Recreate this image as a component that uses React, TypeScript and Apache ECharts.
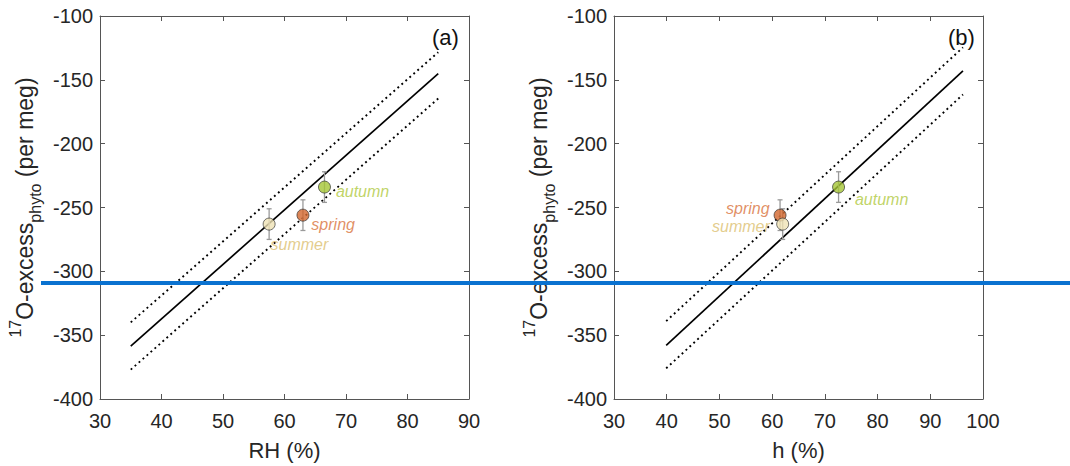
import React, { useEffect, useRef } from "react";
import * as echarts from "echarts";

const seasons = ["spring", "summer", "autumn"];
const excessPhyto = [-256, -263, -234];
const excessErr = [12, 12, 12];
const rhA = [63.0, 57.5, 66.5];
const hB = [61.5, 62.0, 72.6];

const fitAx = [35, 85];
const fitAy = [-358.6, -145.2];
const fitAupper = [-340, -128.4];
const fitAlower = [-377, -164.6];

const fitBx = [39.9, 96.2];
const fitBy = [-358, -143];
const fitBupper = [-339, -124.6];
const fitBlower = [-376, -161.5];

const yTicksMin = -400;
const yTicksMax = -100;
const xAMin = 30;
const xAMax = 90;
const xBMin = 30;
const xBMax = 100;

const markerColors = ["#d2672d", "#efe2b5", "#a5c636"];
const labelColors = ["#d9733d", "#dcc070", "#afc940"];

// label placement per panel: [position, dx, dy]
const labelPosA: [string, number, number][] = [
  ["right", -3, 9],
  ["right", -10, 20],
  ["right", 0, 4],
];
const labelPosB: [string, number, number][] = [
  ["left", 1, -7],
  ["left", -1.5, 2.5],
  ["right", 5, 12],
];

const FONT = "Liberation Sans, Arial, Helvetica, sans-serif";
const TXT = "#262626";
const AXC = "#555555";

export default function App() {
  const ref = useRef<HTMLDivElement>(null);
  useEffect(() => {
    const chart = echarts.init(ref.current!, null, { renderer: "svg" });

    const grids = [
      { left: 100, top: 16, width: 369, height: 386 },
      { left: 614, top: 16, width: 369, height: 386 },
    ];

    const mkX = (gi: number, min: number, max: number, pos: string, name: string) => ({
      type: "value",
      gridIndex: gi,
      position: pos,
      min,
      max,
      interval: 10,
      name: pos === "bottom" ? name : "",
      nameLocation: "middle",
      nameGap: 40,
      nameTextStyle: { fontSize: 22, color: TXT, fontFamily: FONT },
      axisLine: { show: true, onZero: false, lineStyle: { color: AXC, width: 1 } },
      axisTick: { show: true, inside: true, length: 5, lineStyle: { color: AXC } },
      axisLabel: {
        show: pos === "bottom",
        fontSize: 20,
        color: TXT,
        fontFamily: FONT,
        margin: 12,
      },
      splitLine: { show: false },
    });

    const yName = "{sup|17}{main|O-excess}{sub|phyto}{main| (per meg)}";
    const mkY = (gi: number, pos: string) => ({
      type: "value",
      gridIndex: gi,
      position: pos,
      min: yTicksMin,
      max: yTicksMax,
      interval: 50,
      name: pos === "left" ? yName : "",
      nameLocation: "middle",
      nameRotate: 90,
      nameGap: 57,
      nameTextStyle: {
        color: TXT,
        fontFamily: FONT,
        fontSize: 23,
        rich: {
          sup: { fontSize: 16, verticalAlign: "top", lineHeight: 36, color: TXT, fontFamily: FONT },
          main: { fontSize: 23, verticalAlign: "middle", lineHeight: 36, color: TXT, fontFamily: FONT },
          sub: { fontSize: 16, verticalAlign: "bottom", lineHeight: 36, color: TXT, fontFamily: FONT },
        },
      },
      axisLine: { show: true, onZero: false, lineStyle: { color: AXC, width: 1 } },
      axisTick: { show: true, inside: true, length: 5, lineStyle: { color: AXC } },
      axisLabel: {
        show: pos === "left",
        fontSize: 20,
        color: TXT,
        fontFamily: FONT,
        margin: 7,
      },
      splitLine: { show: false },
    });

    const lineSeries = (xi: number, xs: number[], ys: number[], dotted: boolean) => ({
      type: "line",
      xAxisIndex: xi,
      yAxisIndex: xi,
      data: xs.map((x, i) => [x, ys[i]]),
      symbol: "none",
      silent: true,
      z: 2,
      lineStyle: {
        color: "#000",
        width: dotted ? 1.9 : 1.7,
        type: dotted ? [1.9, 3.4] : "solid",
      },
    });

    const errSeries = (xi: number, xs: number[]) => ({
      type: "custom",
      xAxisIndex: xi,
      yAxisIndex: xi,
      z: 3,
      data: xs.map((x, i) => [x, excessPhyto[i] - excessErr[i], excessPhyto[i] + excessErr[i]]),
      encode: { x: 0, y: [1, 2] },
      renderItem: (params: any, api: any) => {
        const x = api.value(0);
        const p1 = api.coord([x, api.value(1)]);
        const p2 = api.coord([x, api.value(2)]);
        const w = 2.5;
        const st = { stroke: "#9a9a9a", lineWidth: 1.3 };
        return {
          type: "group",
          children: [
            { type: "line", shape: { x1: p1[0], y1: p1[1], x2: p2[0], y2: p2[1] }, style: st },
            { type: "line", shape: { x1: p1[0] - w, y1: p1[1], x2: p1[0] + w, y2: p1[1] }, style: st },
            { type: "line", shape: { x1: p2[0] - w, y1: p2[1], x2: p2[0] + w, y2: p2[1] }, style: st },
          ],
        };
      },
    });

    const scatterSeries = (xi: number, xs: number[], lp: [string, number, number][]) => ({
      type: "scatter",
      xAxisIndex: xi,
      yAxisIndex: xi,
      z: 4,
      symbolSize: 12,
      data: xs.map((x, i) => ({
        value: [x, excessPhyto[i]],
        name: seasons[i],
        itemStyle: { color: markerColors[i], borderColor: "#222", borderWidth: 0.8 },
        label: {
          show: true,
          formatter: seasons[i],
          position: lp[i][0],
          offset: [lp[i][1], lp[i][2]],
          distance: 5,
          color: labelColors[i],
          fontStyle: "italic",
          fontSize: 16,
          fontFamily: FONT,
        },
      })),
    });

    chart.setOption({
      animation: false,
      backgroundColor: "#ffffff",
      grid: grids,
      xAxis: [
        mkX(0, xAMin, xAMax, "bottom", "RH (%)"),
        mkX(0, xAMin, xAMax, "top", ""),
        mkX(1, xBMin, xBMax, "bottom", "h (%)"),
        mkX(1, xBMin, xBMax, "top", ""),
      ],
      yAxis: [mkY(0, "left"), mkY(0, "right"), mkY(1, "left"), mkY(1, "right")],
      series: [
        lineSeries(0, fitAx, fitAy, false),
        lineSeries(0, fitAx, fitAupper, true),
        lineSeries(0, fitAx, fitAlower, true),
        errSeries(0, rhA),
        scatterSeries(0, rhA, labelPosA),
        lineSeries(2, fitBx, fitBy, false),
        lineSeries(2, fitBx, fitBupper, true),
        lineSeries(2, fitBx, fitBlower, true),
        errSeries(2, hB),
        scatterSeries(2, hB, labelPosB),
      ],
      graphic: [
        {
          type: "text",
          left: 432,
          top: 26,
          style: { text: "(a)", fontSize: 22, fill: "#111", fontFamily: FONT },
        },
        {
          type: "text",
          left: 948,
          top: 26,
          style: { text: "(b)", fontSize: 22, fill: "#111", fontFamily: FONT },
        },
        {
          type: "rect",
          z: 100,
          shape: { x: 41, y: 281, width: 1029, height: 4 },
          style: { fill: "#0a72d0" },
        },
      ],
    });
    return () => chart.dispose();
  }, []);
  return (
    <div
      ref={ref}
      style={{ position: "fixed", left: 0, top: 0, width: 1070, height: 466 }}
    />
  );
}
